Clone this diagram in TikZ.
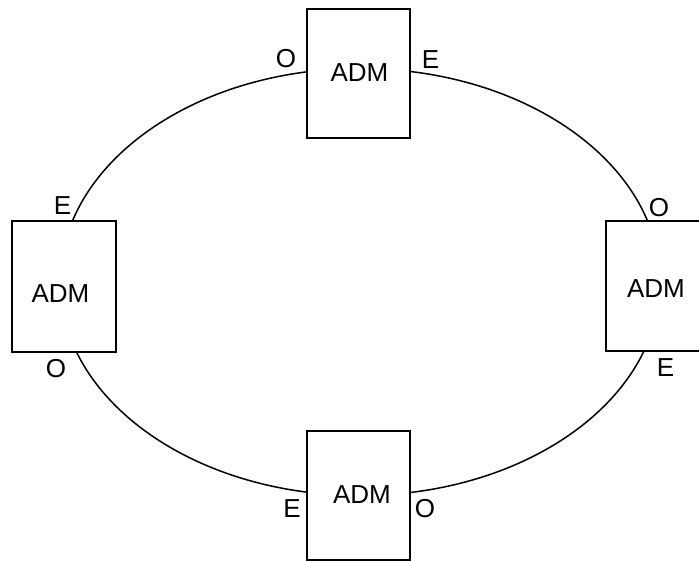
\documentclass[tikz,border=0pt]{standalone}
\usepackage{fontspec}
\setmainfont{Liberation Sans}
\begin{document}
\begin{tikzpicture}[x=1pt,y=-1pt,
  box/.style={draw=black, line width=1.9pt, fill=white, inner sep=0pt},
  ring/.style={draw=black, line width=1.5pt},
  txt/.style={inner sep=0pt, font=\fontsize{26}{30}\selectfont}]
\useasboundingbox (0,0) rectangle (699,561);
\clip (0,0) rectangle (699,561);
\coordinate (c) at (360,282);
\draw[ring] (c) ellipse [x radius=300pt, y radius=213.5pt];
% boxes
\node[box, minimum width=103pt, minimum height=129pt] (topbox) at (358.5,73.5) {};
\node[box, minimum width=104pt, minimum height=131pt] (leftbox) at (64,286.5) {};
\node[box, minimum width=103pt, minimum height=130pt] (rightbox) at (657.5,286) {};
\node[box, minimum width=103pt, minimum height=129pt] (botbox) at (358.5,495.5) {};
% box texts
\node[txt] (topt) at (359.5,72.5) {ADM};
\node[txt] (leftt) at (60.5,293.5) {ADM};
\node[txt] (rightt) at (656,289) {ADM};
\node[txt] (bott) at (362,494.5) {ADM};
% port labels
\node[txt] (topO) at (286,59) {O};
\node[txt] (topE) at (430.5,60) {E};
\node[txt] (leftE) at (62.5,206) {E};
\node[txt] (leftO) at (56,369) {O};
\node[txt] (rightO) at (659,208) {O};
\node[txt] (rightE) at (665.5,367.5) {E};
\node[txt] (botE) at (292,508.5) {E};
\node[txt] (botO) at (425,509) {O};
\end{tikzpicture}
\end{document}
